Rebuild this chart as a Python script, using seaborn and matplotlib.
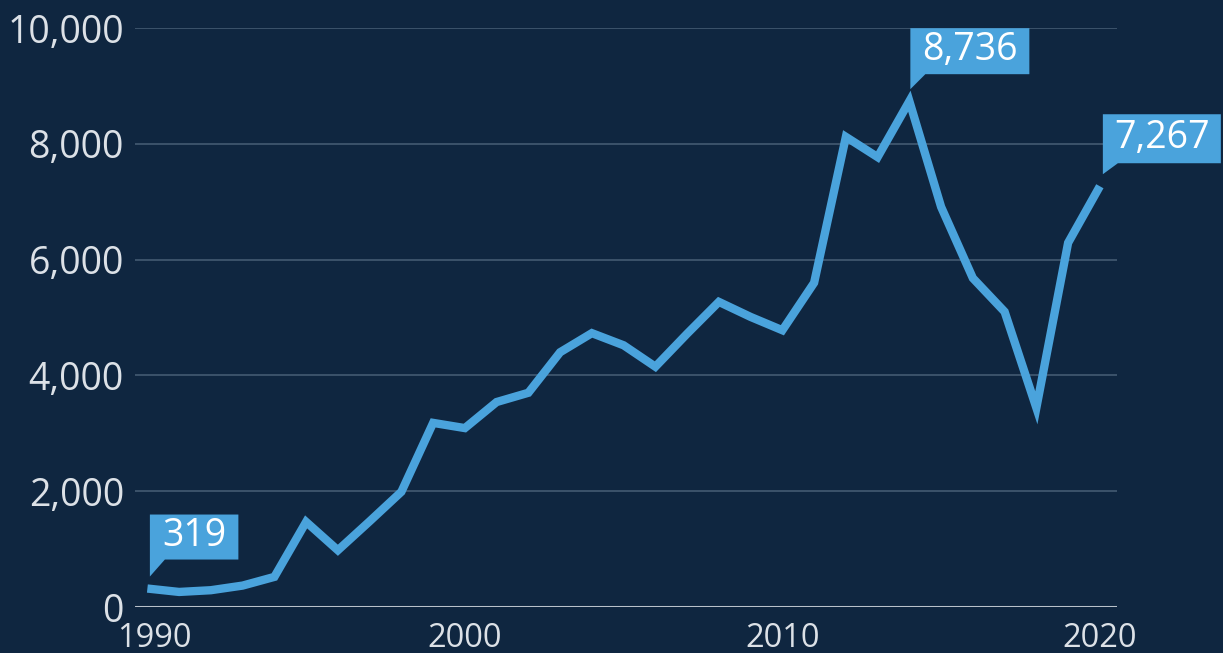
import matplotlib
matplotlib.use("Agg")
import matplotlib.pyplot as plt
import matplotlib.transforms as mtransforms
from matplotlib.patches import Polygon
import seaborn as sns
import pandas as pd

years = list(range(1990, 2021))
values = [319, 260, 290, 370, 520, 1470, 980, 1480, 1990, 3180, 3090, 3540, 3700,
          4400, 4730, 4520, 4150, 4720, 5270, 5010, 4780, 5600, 8120, 7770, 8736,
          6910, 5680, 5100, 3440, 6290, 7267]
ytick_values = [0, 2000, 4000, 6000, 8000, 10000]
xtick_values = [1990, 2000, 2010, 2020]
labeled_years = [1990, 2014, 2020]

BG = "#0f2640"
LINE = "#4aa3dc"
GRID = "#3f566e"
TXT = "#dce1e7"

sns.set_theme(style="dark")
plt.rcParams['font.family'] = ['Open Sans', 'DejaVu Sans']

df = pd.DataFrame({"year": years, "value": values})

fig = plt.figure(figsize=(12.23, 6.53), dpi=100, facecolor=BG)
ax = fig.add_axes([135/1223, 46/653, (1117-135)/1223, (607-28)/653])
ax.set_facecolor(BG)

sns.lineplot(data=df, x="year", y="value", ax=ax, color=LINE, linewidth=6.0,
             solid_joinstyle="miter", solid_capstyle="butt", zorder=3)

ax.set_xlim(1989.61, 2020.54)
ax.set_ylim(0, 10000)
ax.set_yticks(ytick_values)
ax.set_yticklabels([f"{v:,}" for v in ytick_values])
ax.set_xticks(xtick_values)
# the first year label is drawn separately (it sits a little to the right)
ax.set_xticklabels([""] + [str(v) for v in xtick_values[1:]])
ax.set_xlabel("")
ax.set_ylabel("")
for v in ytick_values[1:]:
    ax.axhline(v, color=GRID, linewidth=1.3, zorder=1)
ax.axhline(0, color="#b9c1ca", linewidth=2.2, zorder=2)
for s in ax.spines.values():
    s.set_visible(False)
ax.tick_params(axis="y", length=0, colors=TXT, labelsize=27, pad=8)
ax.tick_params(axis="x", length=0, colors=TXT, labelsize=23.5, pad=11)
ax.grid(False)

xl = ax.get_xticklabels()[1]
ftrans = ax.get_xaxis_transform() + mtransforms.Affine2D().translate(7, 0) + \
    mtransforms.ScaledTranslation(0, -11 / 72, fig.dpi_scale_trans)
ax.text(xtick_values[0], 0, str(xtick_values[0]), transform=ftrans, ha="center",
        va="top", color=TXT, fontsize=23.5, clip_on=False)

# callout boxes (pixel offsets relative to the data point)
shapes = {
    1990: (2.5, 91, 29, 74),
    2014: (1, 120, 27, 73),
    2020: (3, 121, 23, 72),
}
for yr in labeled_years:
    val = values[years.index(yr)]
    x0, x1, y0, y1 = shapes[yr]
    verts = [(x0, 12), (x0 + 15, y0), (x1, y0), (x1, y1), (x0, y1), (x0, y0)]
    trans = mtransforms.Affine2D() + mtransforms.ScaledTranslation(yr, val, ax.transData)
    poly = Polygon(verts, closed=True, facecolor=LINE, edgecolor="none",
                   transform=trans, clip_on=False, zorder=5)
    ax.add_patch(poly)
    ttrans = mtransforms.Affine2D().translate((x0 + x1) / 2, (y0 + y1) / 2 + 1) + \
        mtransforms.ScaledTranslation(yr, val, ax.transData)
    ax.text(0, 0, f"{val:,}", transform=ttrans, ha="center", va="center",
            color="white", fontsize=27, zorder=6, clip_on=False)

fig.savefig("out.png", dpi=100, facecolor=BG)
